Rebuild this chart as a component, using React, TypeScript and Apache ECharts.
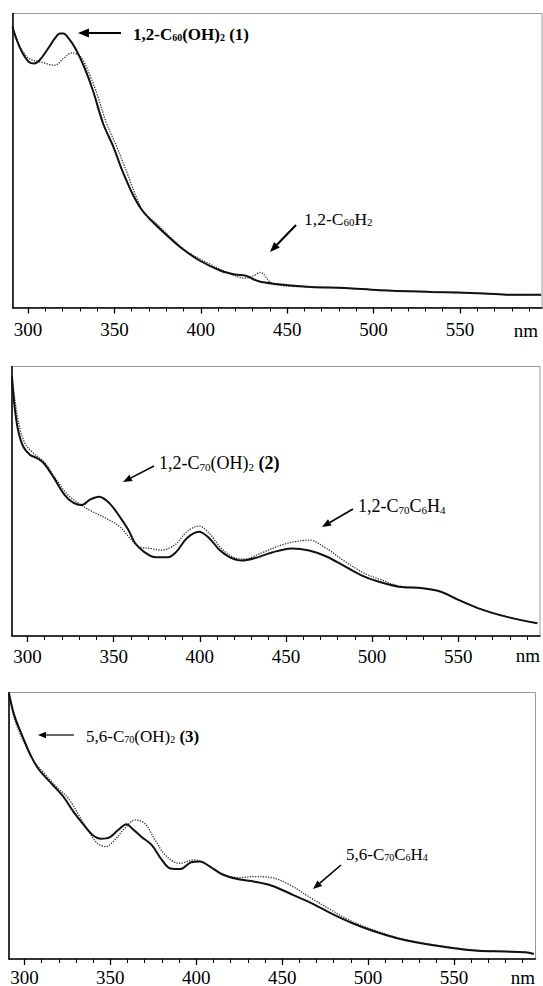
import React, { useEffect, useRef } from "react";
import * as echarts from "echarts";

// wavelength (nm) / relative absorbance pairs
const c60OH2 = [[291,0.955],[293.5,0.909],[296.5,0.869],[300.5,0.835],[303.5,0.83],[306.5,0.84],[311.5,0.88],[315.5,0.915],[318.5,0.932],[320.5,0.932],[323.5,0.915],[327.5,0.88],[332.5,0.818],[337.5,0.739],[343.5,0.625],[349.5,0.545],[354.5,0.466],[360.5,0.386],[365.5,0.335],[371.5,0.295],[379.5,0.25],[389.5,0.199],[399.5,0.159],[411.5,0.125],[420,0.112],[426,0.108],[433.5,0.089],[443.5,0.08],[463.5,0.07],[483.5,0.066],[503.5,0.059],[533.5,0.053],[563.5,0.048],[579.5,0.043],[597,0.043]];
const c60H2 = [[291,0.955],[295.5,0.886],[300.5,0.847],[307.5,0.835],[315.5,0.824],[320.5,0.847],[325.5,0.866],[330.5,0.852],[335.5,0.795],[340.5,0.716],[345.5,0.625],[351.5,0.545],[357.5,0.455],[363.5,0.364],[367.5,0.318],[373.5,0.29],[381.5,0.244],[391.5,0.193],[403.5,0.153],[415.5,0.119],[425.5,0.1],[430.5,0.108],[434.5,0.119],[440.5,0.085],[447.5,0.074],[463.5,0.07],[483.5,0.066],[503.5,0.059],[533.5,0.053],[563.5,0.048],[579.5,0.043],[597,0.043]];

const c70OH2_12 = [[291,0.963],[292.5,0.851],[294.5,0.765],[297.5,0.703],[301.5,0.672],[305.5,0.66],[309.5,0.641],[315.5,0.585],[321.5,0.524],[326.5,0.495],[331.5,0.486],[336.5,0.507],[341.5,0.517],[347.5,0.493],[353.5,0.443],[358.5,0.394],[362.5,0.344],[367.5,0.313],[374.5,0.292],[381.5,0.292],[386.5,0.313],[392.5,0.363],[399.5,0.387],[405.5,0.363],[411.5,0.319],[417.5,0.292],[424.5,0.28],[431.5,0.288],[441.5,0.309],[453.5,0.325],[463.5,0.317],[473.5,0.295],[483.5,0.261],[493.5,0.226],[503.5,0.202],[515.5,0.183],[529.5,0.177],[539.5,0.165],[549.5,0.136],[563.5,0.099],[579.5,0.069],[596,0.047]];
const c70C6H4_12 = [[291,0.963],[294.5,0.802],[298.5,0.715],[303.5,0.678],[309.5,0.647],[315.5,0.592],[322.5,0.53],[329.5,0.493],[337.5,0.462],[345.5,0.437],[353.5,0.406],[359.5,0.363],[364.5,0.332],[371.5,0.325],[377.5,0.319],[385.5,0.338],[392.5,0.387],[399.5,0.408],[405.5,0.381],[412.5,0.325],[419.5,0.292],[425.5,0.285],[435.5,0.307],[447.5,0.338],[455.5,0.35],[463.5,0.356],[473.5,0.325],[483.5,0.28],[495.5,0.233],[505.5,0.208],[515.5,0.186],[529.5,0.177],[539.5,0.165],[549.5,0.136],[563.5,0.099],[579.5,0.069],[596,0.047]];

const c70OH2_56 = [[291,0.997],[294,0.916],[298.5,0.841],[303.5,0.766],[308.5,0.71],[315.5,0.66],[322.5,0.61],[328.5,0.553],[334.5,0.503],[339.5,0.466],[344.5,0.451],[349.5,0.456],[354.5,0.484],[359.5,0.506],[362.5,0.491],[368,0.459],[374,0.428],[380,0.372],[385,0.34],[391,0.338],[397,0.363],[402,0.366],[408,0.347],[415,0.318],[424,0.3],[434,0.29],[444,0.275],[456.5,0.24],[468.5,0.205],[478.5,0.171],[491,0.134],[503,0.105],[517,0.078],[531,0.059],[547,0.043],[563.5,0.031],[579.5,0.028],[591.5,0.025],[596.5,0.019]];
const c70C6H4_56 = [[291,0.997],[294,0.904],[299.5,0.816],[305.5,0.741],[311.5,0.697],[318.5,0.647],[325.5,0.603],[331.5,0.541],[337.5,0.478],[342.5,0.434],[347.5,0.422],[352.5,0.447],[358.5,0.491],[364.5,0.522],[370,0.509],[376,0.447],[382,0.39],[390,0.359],[399,0.372],[406,0.355],[414,0.322],[424,0.305],[434,0.309],[444,0.305],[454.5,0.278],[466.5,0.23],[478.5,0.184],[491,0.14],[505,0.105],[517,0.08],[531,0.061],[547,0.045],[563.5,0.033],[579.5,0.029],[591.5,0.026],[596.5,0.02]];

const majorTicks = [300, 350, 400, 450, 500, 550];
const minorTicks = [300, 310, 320, 330, 340, 350, 360, 370, 380, 390, 400, 410, 420, 430, 440, 450, 460, 470, 480, 490, 500, 510, 520, 530, 540, 550, 560, 570, 580, 590];
const X_MIN = 291;
const X_MAX = 597.5;

const SERIF = "'Liberation Serif', 'DejaVu Serif', serif";

const grids = [
  { left: 12.5, top: 13.5, width: 529.5, height: 294 },
  { left: 12, top: 366.5, width: 528, height: 269.5 },
  { left: 9, top: 692.5, width: 526.5, height: 266.5 },
];
const labelMargins = [12, 10, 11];
const labelLineHeights = [20, 20, 14];

function arrow(x1: number, y1: number, x2: number, y2: number, w: number, head: number) {
  const a = Math.atan2(y2 - y1, x2 - x1);
  const hx = x2 - head * Math.cos(a);
  const hy = y2 - head * Math.sin(a);
  const px = -Math.sin(a) * head * 0.4;
  const py = Math.cos(a) * head * 0.4;
  return [
    { type: "line", shape: { x1, y1, x2: hx, y2: hy }, style: { stroke: "#000", lineWidth: w } },
    { type: "polygon", shape: { points: [[x2, y2], [hx + px, hy + py], [hx - px, hy - py]] }, style: { fill: "#000" } },
  ];
}

function label(x: number, y: number, text: string, size: number, bold: boolean) {
  const w = bold ? "bold" : "normal";
  return {
    type: "text",
    x,
    y,
    style: {
      text,
      verticalAlign: "middle",
      rich: {
        n: { fontSize: size, fontFamily: SERIF, fontWeight: w, color: "#000", lineHeight: size + 2, verticalAlign: "bottom" },
        s: { fontSize: Math.round(size * 0.6), fontFamily: SERIF, fontWeight: w, color: "#000", lineHeight: size + 2, verticalAlign: "bottom" },
        b: { fontSize: size, fontFamily: SERIF, fontWeight: "bold", color: "#000", lineHeight: size + 2, verticalAlign: "bottom" },
      },
    },
  };
}

function nmText(x: number, y: number, lh: number) {
  return { type: "text", x, y, style: { text: "nm", font: `19px ${SERIF}`, lineHeight: lh, fill: "#000", align: "center", verticalAlign: "middle" } };
}

export default function App() {
  const ref = useRef<HTMLDivElement>(null);
  useEffect(() => {
    if (!ref.current) return;
    const chart = echarts.init(ref.current, undefined, { renderer: "svg" });
    const gridOpts: any[] = [];
    const xAxes: any[] = [];
    const yAxes: any[] = [];
    grids.forEach((g, i) => {
      // main grid (index 2i) with series and major ticks
      gridOpts.push({ ...g, outerBoundsMode: "none", containLabel: false, show: true, borderColor: "#999", borderWidth: 1, backgroundColor: "transparent" });
      // overlay grid (index 2i+1) carrying only the 10 nm minor ticks
      gridOpts.push({ ...g, outerBoundsMode: "none", containLabel: false, show: false });
      xAxes.push({
        type: "value", gridIndex: 2 * i, min: X_MIN, max: X_MAX, position: "bottom",
        axisLine: { show: true, onZero: false, lineStyle: { color: "#000", width: 1.5 } },
        axisTick: { show: true, length: 6, customValues: majorTicks, lineStyle: { color: "#000", width: 1.3 } },
        axisLabel: { show: true, customValues: majorTicks, margin: labelMargins[i], lineHeight: labelLineHeights[i], fontSize: 19, fontFamily: SERIF, color: "#000" },
        splitLine: { show: false },
      });
      xAxes.push({
        type: "value", gridIndex: 2 * i + 1, min: X_MIN, max: X_MAX, position: "bottom",
        axisLine: { show: false, onZero: false },
        axisTick: { show: true, length: 4, customValues: minorTicks, lineStyle: { color: "#000", width: 1 } },
        axisLabel: { show: false },
        splitLine: { show: false },
      });
      yAxes.push({
        type: "value", gridIndex: 2 * i, min: 0, max: 1,
        axisLine: { show: true, onZero: false, lineStyle: { color: "#000", width: 1.5 } },
        axisTick: { show: false }, axisLabel: { show: false }, splitLine: { show: false },
      });
      yAxes.push({
        type: "value", gridIndex: 2 * i + 1, min: 0, max: 1, show: false,
      });
    });
    const solid = { color: "#111", width: 2 };
    const dotted = { color: "#333", width: 1.3, type: "dotted" };
    const mk = (data: number[][], i: number, ls: any) => ({
      type: "line", xAxisIndex: i * 2, yAxisIndex: i * 2, data, showSymbol: false, smooth: 0.35,
      lineStyle: ls, silent: true,
    });
    chart.setOption({
      animation: false,
      backgroundColor: "#fff",
      grid: gridOpts,
      xAxis: xAxes,
      yAxis: yAxes,
      series: [
        mk(c60H2, 0, dotted), mk(c60OH2, 0, solid),
        mk(c70C6H4_12, 1, dotted), mk(c70OH2_12, 1, solid),
        mk(c70C6H4_56, 2, dotted), mk(c70OH2_56, 2, solid),
      ],
      graphic: [
        ...arrow(121, 33, 78, 33, 2, 11),
        label(133, 33, "{n|1,2-C}{s|60}{n|(OH)}{s|2}{b| (1)}", 17, true),
        ...arrow(296, 225, 270, 252, 2, 10),
        label(304, 218, "{n|1,2-C}{s|60}{n|H}{s|2}", 17.5, false),
        ...arrow(154, 466, 123, 482, 1.6, 9),
        label(159, 462, "{n|1,2-C}{s|70}{n|(OH)}{s|2}{b| (2)}", 18, false),
        ...arrow(353, 509, 322, 527, 1.6, 9),
        label(358, 505, "{n|1,2-C}{s|70}{n|C}{s|6}{n|H}{s|4}", 18, false),
        ...arrow(74, 735, 38, 735, 1.2, 8),
        label(86, 735, "{n|5,6-C}{s|70}{n|(OH)}{s|2}{b| (3)}", 17, false),
        ...arrow(341, 865, 313, 889, 1.6, 9),
        label(346, 853, "{n|5,6-C}{s|70}{n|C}{s|6}{n|H}{s|4}", 17, false),
        nmText(526, 330, 20),
        nmText(528, 655, 20),
        nmText(523, 977, 14),
      ],
    });
    return () => chart.dispose();
  }, []);
  return <div ref={ref} style={{ position: "fixed", left: 0, top: 0, width: 543, height: 986, background: "#fff" }} />;
}
